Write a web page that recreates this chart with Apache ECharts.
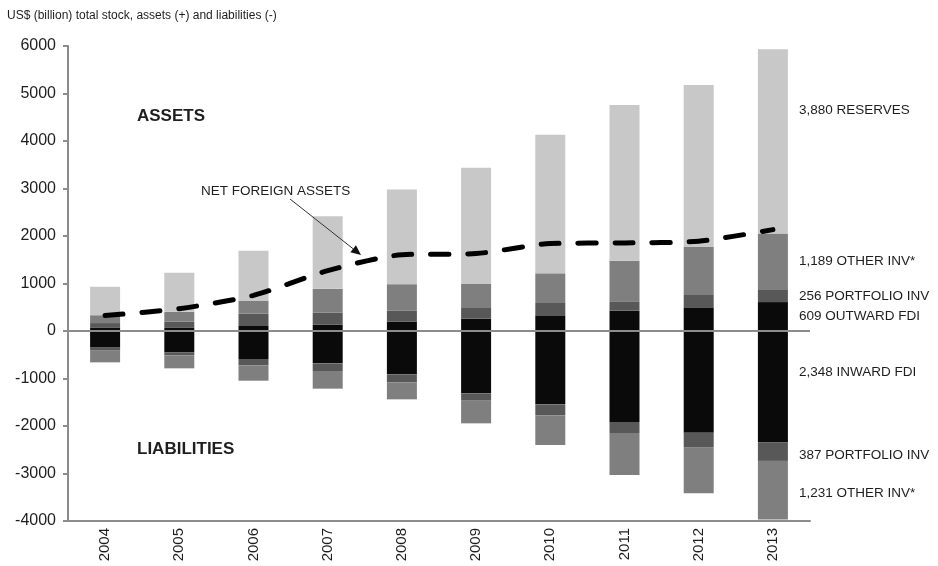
<!DOCTYPE html>
<html>
<head>
<meta charset="utf-8">
<script src="https://cdn.jsdelivr.net/npm/echarts@6/dist/echarts.min.js"></script>
<style>
html,body{margin:0;padding:0;background:#fff;}
#chart{width:938px;height:566px;}
</style>
</head>
<body>
<div id="chart"></div>
<script>
// ---- data (US$ billion) ----
const years = ['2004','2005','2006','2007','2008','2009','2010','2011','2012','2013'];
const outwardFDI   = [75, 75, 105, 130, 200, 260, 330, 428, 498, 609];
const portfolioAss = [92, 120, 260, 260, 225, 224, 259, 197, 260, 256];
const otherInvAss  = [165, 210, 267, 498, 561, 505, 625, 855, 1010, 1189];
const reserves     = [600, 821, 1059, 1530, 1993, 2450, 2919, 3278, 3411, 3880];
const inwardFDI    = [-350, -452, -589, -681, -912, -1312, -1544, -1916, -2140, -2348];
const portfolioLia = [-64, -62, -134, -161, -169, -155, -231, -231, -316, -387];
const otherInvLia  = [-246, -272, -323, -372, -358, -477, -625, -885, -962, -1231];
const netForeign   = [325, 470, 750, 1270, 1605, 1630, 1840, 1855, 1890, 2135];
const yTicks = {min: -4000, max: 6000, step: 1000};

const FONT = '"Liberation Sans", Arial, sans-serif';
const TXT = '#1e1e1e';

function fmt(v){ return Math.abs(v).toLocaleString('en-US'); }

function withEndLabel(values, name, offset){
  return values.map((v, i) => {
    if (i !== values.length - 1) return v;
    return {
      value: v,
      label: {
        show: true, position: 'right', distance: 11,
        offset: offset || [0, 0],
        formatter: () => fmt(v) + ' ' + name,
        color: TXT, fontFamily: FONT, fontSize: 13.5
      }
    };
  });
}

function barSeries(name, values, color, labelName, offset){
  return {
    name: name, type: 'bar', stack: 'total', barWidth: 30,
    itemStyle: {color: color},
    emphasis: {disabled: true},
    data: withEndLabel(values, labelName, offset)
  };
}

const chart = echarts.init(document.getElementById('chart'), null, {renderer: 'canvas'});

const series = [
  Object.assign(barSeries('Outward FDI', outwardFDI, '#0a0a0a', 'OUTWARD FDI'), {
    markLine: {
      silent: true, symbol: 'none', label: {show: false},
      lineStyle: {color: '#8c8c8c', width: 2, type: 'solid'},
      data: [{yAxis: 0}]
    }
  }),
  barSeries('Portfolio inv (assets)', portfolioAss, '#585858', 'PORTFOLIO INV'),
  barSeries('Other inv (assets)', otherInvAss, '#7f7f7f', 'OTHER INV*'),
  barSeries('Reserves', reserves, '#c8c8c8', 'RESERVES', [0, -31]),
  barSeries('Inward FDI', inwardFDI, '#0a0a0a', 'INWARD FDI', [0, -14]),
  barSeries('Portfolio inv (liabilities)', portfolioLia, '#585858', 'PORTFOLIO INV', [0, 4]),
  barSeries('Other inv (liabilities)', otherInvLia, '#7f7f7f', 'OTHER INV*', [0, 3]),
  {
    name: 'Net foreign assets', type: 'line', data: netForeign,
    symbol: 'none', smooth: 0.25, z: 10,
    lineStyle: {color: '#000', width: 5, type: [18, 19], cap: 'round'},
    emphasis: {disabled: true}
  }
];

// arrow annotation geometry
const ax0 = 290, ay0 = 199, ax1 = 361, ay1 = 255;
const dx = ax1 - ax0, dy = ay1 - ay0, len = Math.sqrt(dx*dx + dy*dy);
const ux = dx/len, uy = dy/len, hl = 10, hw = 4.5;
const bx = ax1 - ux*hl, by = ay1 - uy*hl;

chart.setOption({
  animation: false,
  backgroundColor: '#fff',
  grid: {left: 68, right: 128, top: 46, bottom: 45, containLabel: false},
  xAxis: {
    type: 'category', data: years,
    axisLine: {onZero: false, lineStyle: {color: '#8c8c8c', width: 2}},
    axisTick: {show: false},
    axisLabel: {rotate: 90, margin: 7, color: TXT, fontFamily: FONT, fontSize: 15}
  },
  yAxis: {
    type: 'value', min: yTicks.min, max: yTicks.max, interval: yTicks.step,
    axisLine: {show: true, lineStyle: {color: '#8c8c8c', width: 2}},
    axisTick: {show: true, length: 5, lineStyle: {color: '#8c8c8c', width: 2}},
    splitLine: {show: false},
    axisLabel: {margin: 12, color: TXT, fontFamily: FONT, fontSize: 16, formatter: v => String(v)}
  },
  series: series,
  graphic: [
    {type: 'text', left: 7, top: 10, style: {text: 'US$ (billion) total stock, assets (+) and liabilities (-)', fill: TXT, font: '12px ' + FONT}},
    {type: 'text', left: 137, top: 108, style: {text: 'ASSETS', fill: TXT, font: 'bold 17px ' + FONT}},
    {type: 'text', left: 137, top: 441, style: {text: 'LIABILITIES', fill: TXT, font: 'bold 17px ' + FONT}},
    {type: 'text', left: 201, top: 184, style: {text: 'NET FOREIGN ASSETS', fill: TXT, font: '13.5px ' + FONT}},
    {type: 'line', shape: {x1: ax0, y1: ay0, x2: bx, y2: by}, style: {stroke: '#333', lineWidth: 1}, z: 20},
    {type: 'polygon', shape: {points: [[ax1, ay1], [bx - uy*hw, by + ux*hw], [bx + uy*hw, by - ux*hw]]}, style: {fill: '#111'}, z: 20}
  ]
});
</script>
</body>
</html>
